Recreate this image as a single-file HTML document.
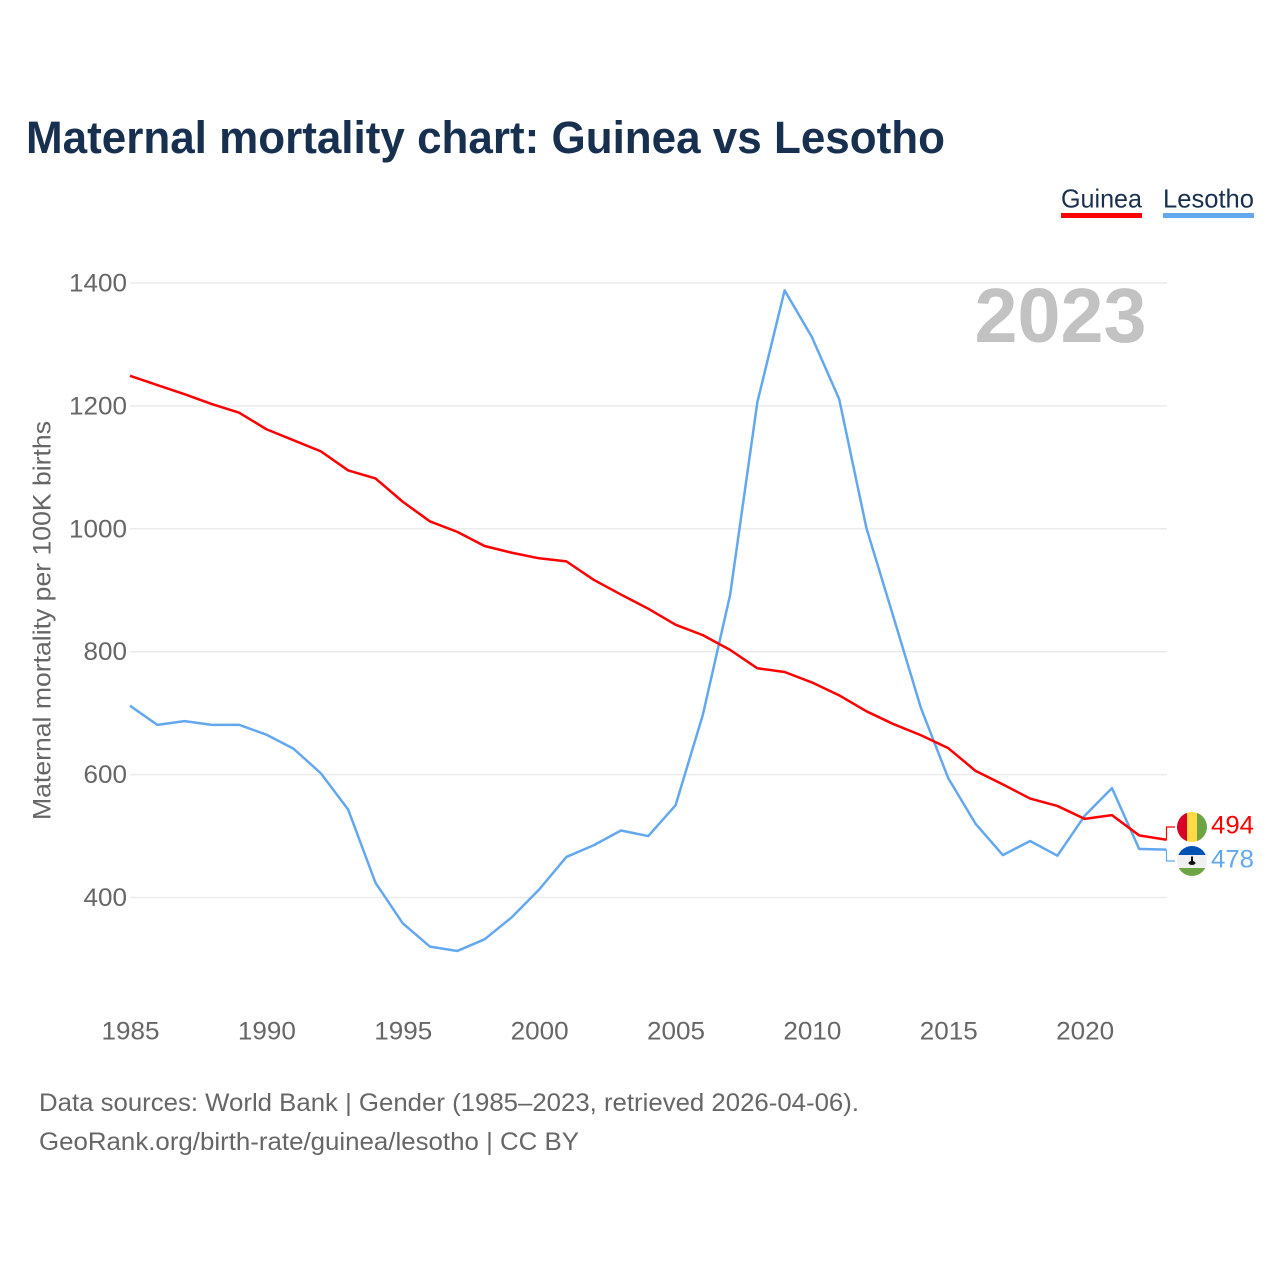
<!DOCTYPE html>
<html lang="en">
<head>
<meta charset="utf-8">
<title>Maternal mortality chart: Guinea vs Lesotho</title>
<style>
html,body{margin:0;padding:0;background:#fff;}
svg{display:block;}
text{font-family:"Liberation Sans",sans-serif;}
</style>
</head>
<body>
<svg id="chart" width="1280" height="1280" viewBox="0 0 1280 1280" xmlns="http://www.w3.org/2000/svg">
  <rect width="1280" height="1280" fill="#fff"/>
  <text x="26" y="153" font-size="45" font-weight="700" fill="#18304f" textLength="919" lengthAdjust="spacingAndGlyphs">Maternal mortality chart: Guinea vs Lesotho</text>

  <text x="1061" y="207.5" font-size="26" fill="#18304f" textLength="81" lengthAdjust="spacingAndGlyphs">Guinea</text>
  <rect x="1061" y="213" width="81" height="5" fill="#ff0000"/>
  <text x="1163" y="207.5" font-size="26" fill="#18304f" textLength="91" lengthAdjust="spacingAndGlyphs">Lesotho</text>
  <rect x="1163" y="213" width="91" height="5" fill="#63a8ee"/>

  <g id="grid"></g>
  <g id="yticks"></g>
  <g id="xticks"></g>

  <text transform="translate(50.5,820) rotate(-90)" x="0" y="0" font-size="25" fill="#666" textLength="399" lengthAdjust="spacingAndGlyphs">Maternal mortality per 100K births</text>

  <text x="974.5" y="342" font-size="77" font-weight="700" fill="#c2c2c2" textLength="172" lengthAdjust="spacingAndGlyphs">2023</text>

  <g id="series"></g>

  <g>
    <clipPath id="clip-g"><circle cx="1192" cy="827" r="15"/></clipPath>
    <g clip-path="url(#clip-g)">
      <rect x="1177" y="812" width="10" height="30" fill="#d80027"/>
      <rect x="1187" y="812" width="10" height="30" fill="#ffda44"/>
      <rect x="1197" y="812" width="10" height="30" fill="#6da544"/>
    </g>
  </g>
  <g>
    <clipPath id="clip-l"><circle cx="1192" cy="861" r="15"/></clipPath>
    <g clip-path="url(#clip-l)">
      <rect x="1177" y="846" width="30" height="9" fill="#0052b4"/>
      <rect x="1177" y="855" width="30" height="13" fill="#f0f0f0"/>
      <rect x="1177" y="868" width="30" height="9" fill="#6da544"/>
      <rect x="1191" y="856.5" width="2" height="6" fill="#111"/>
      <ellipse cx="1192" cy="863" rx="3.5" ry="2" fill="#111"/>
    </g>
  </g>

  <text x="1211" y="833.5" font-size="25" fill="#ff0000" textLength="43" lengthAdjust="spacingAndGlyphs">494</text>
  <text x="1211" y="867.5" font-size="25" fill="#63a8ee" textLength="43" lengthAdjust="spacingAndGlyphs">478</text>

  <text x="39" y="1111" font-size="25" fill="#666" textLength="820" lengthAdjust="spacingAndGlyphs">Data sources: World Bank | Gender (1985–2023, retrieved 2026-04-06).</text>
  <text x="39" y="1150" font-size="25" fill="#666" textLength="540" lengthAdjust="spacingAndGlyphs">GeoRank.org/birth-rate/guinea/lesotho | CC BY</text>
</svg>
<script>
const years = [1985,1986,1987,1988,1989,1990,1991,1992,1993,1994,1995,1996,1997,1998,1999,2000,2001,2002,2003,2004,2005,2006,2007,2008,2009,2010,2011,2012,2013,2014,2015,2016,2017,2018,2019,2020,2021,2022,2023];
const guinea = [1249,1234,1219,1203,1189,1162,1144,1126,1095,1082,1044,1012,995,972,961,952,947,917,893,870,844,827,803,773,767,750,729,703,682,664,643,606,584,561,549,528,534,501,494];
const lesotho = [712,681,687,681,681,665,642,602,543,424,358,320,313,332,368,413,466,485,509,500,550,697,892,1206,1388,1312,1211,1001,855,708,594,520,469,492,468,533,578,479,478];
const yTickValues = [400,600,800,1000,1200,1400];
const xTickValues = [1985,1990,1995,2000,2005,2010,2015,2020];

const NS = 'http://www.w3.org/2000/svg';
function xScale(year){ return 130 + (year - 1985) * (1166.5 - 130) / 38; }
function yScale(v){ return 897.5 - (v - 400) * (897.5 - 283) / 1000; }

const grid = document.getElementById('grid');
const yticks = document.getElementById('yticks');
const xticks = document.getElementById('xticks');
const series = document.getElementById('series');

yTickValues.forEach(function(v){
  const line = document.createElementNS(NS,'line');
  line.setAttribute('x1', 130);
  line.setAttribute('x2', 1167);
  line.setAttribute('y1', yScale(v));
  line.setAttribute('y2', yScale(v));
  line.setAttribute('stroke', '#ebebeb');
  line.setAttribute('stroke-width', '1.5');
  
  
  grid.appendChild(line);

  const t = document.createElementNS(NS,'text');
  const label = String(v);
  t.setAttribute('x', 127 - label.length * 14.5);
  t.setAttribute('y', yScale(v) + 8.5);
  t.setAttribute('font-size', '25');
  t.setAttribute('fill', '#666');
  t.setAttribute('textLength', label.length * 14.5);
  t.setAttribute('lengthAdjust', 'spacingAndGlyphs');
  
  
  t.textContent = label;
  yticks.appendChild(t);
});

xTickValues.forEach(function(y){
  const t = document.createElementNS(NS,'text');
  t.setAttribute('x', xScale(y) - 28.5);
  t.setAttribute('y', 1039.5);
  t.setAttribute('font-size', '25');
  t.setAttribute('fill', '#666');
  t.setAttribute('textLength', '58');
  t.setAttribute('lengthAdjust', 'spacingAndGlyphs');
  
  
  t.textContent = String(y);
  xticks.appendChild(t);
});

function drawLine(values, color, name){
  const pts = values.map(function(v,i){ return xScale(years[i]).toFixed(2) + ',' + yScale(v).toFixed(2); }).join(' ');
  const p = document.createElementNS(NS,'polyline');
  p.setAttribute('points', pts);
  p.setAttribute('fill', 'none');
  p.setAttribute('stroke', color);
  p.setAttribute('stroke-width', '2.5');
  p.setAttribute('stroke-linejoin', 'round');
  
  
  series.appendChild(p);
}
drawLine(lesotho, '#63a8ee', 'line-lesotho');
drawLine(guinea, '#ff0000', 'line-guinea');

function drawConnector(values, labelY, color, name){
  const x0 = xScale(years[years.length - 1]);
  const y0 = yScale(values[values.length - 1]);
  const c = document.createElementNS(NS,'polyline');
  c.setAttribute('points', x0 + ',' + y0 + ' ' + x0 + ',' + labelY + ' 1175,' + labelY);
  c.setAttribute('fill', 'none');
  c.setAttribute('stroke', color);
  c.setAttribute('stroke-width', '1.2');
  
  
  series.appendChild(c);
}
drawConnector(guinea, 827, '#ff0000', 'connector-guinea');
drawConnector(lesotho, 861, '#63a8ee', 'connector-lesotho');
</script>
</body>
</html>
